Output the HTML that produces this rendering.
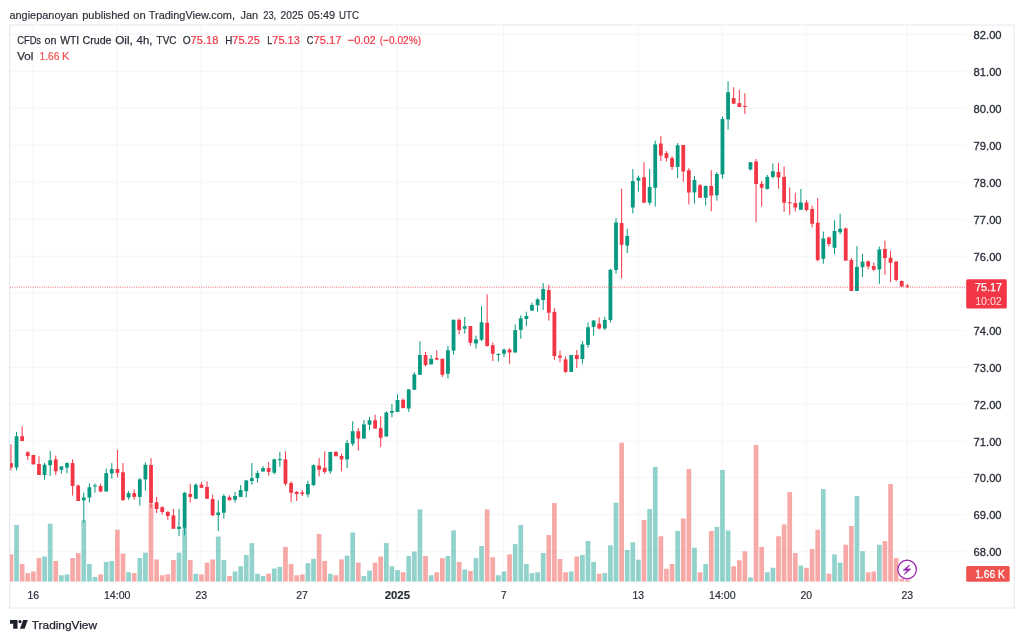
<!DOCTYPE html>
<html lang="en"><head><meta charset="utf-8"><title>CFDs on WTI Crude Oil</title>
<style>html,body{margin:0;padding:0;background:#fff;}body{width:1024px;height:641px;overflow:hidden;}svg{display:block;}text{font-family:"Liberation Sans", sans-serif;}</style></head><body>
<svg width="1024" height="641" viewBox="0 0 1024 641">
<rect width="1024" height="641" fill="#fff"/>
<g stroke="#f4f5f6" stroke-width="1">
<line x1="10" y1="551.75" x2="965.5" y2="551.75"/>
<line x1="10" y1="514.70" x2="965.5" y2="514.70"/>
<line x1="10" y1="477.40" x2="965.5" y2="477.40"/>
<line x1="10" y1="441.25" x2="965.5" y2="441.25"/>
<line x1="10" y1="404.40" x2="965.5" y2="404.40"/>
<line x1="10" y1="367.40" x2="965.5" y2="367.40"/>
<line x1="10" y1="330.50" x2="965.5" y2="330.50"/>
<line x1="10" y1="293.10" x2="965.5" y2="293.10"/>
<line x1="10" y1="256.25" x2="965.5" y2="256.25"/>
<line x1="10" y1="219.20" x2="965.5" y2="219.20"/>
<line x1="10" y1="182.10" x2="965.5" y2="182.10"/>
<line x1="10" y1="145.00" x2="965.5" y2="145.00"/>
<line x1="10" y1="108.30" x2="965.5" y2="108.30"/>
<line x1="10" y1="71.25" x2="965.5" y2="71.25"/>
<line x1="10" y1="34.25" x2="965.5" y2="34.25"/>
<line x1="33.01" y1="25.5" x2="33.01" y2="582"/>
<line x1="117.05" y1="25.5" x2="117.05" y2="582"/>
<line x1="201.09" y1="25.5" x2="201.09" y2="582"/>
<line x1="301.93" y1="25.5" x2="301.93" y2="582"/>
<line x1="397.17" y1="25.5" x2="397.17" y2="582"/>
<line x1="503.62" y1="25.5" x2="503.62" y2="582"/>
<line x1="638.08" y1="25.5" x2="638.08" y2="582"/>
<line x1="722.12" y1="25.5" x2="722.12" y2="582"/>
<line x1="806.15" y1="25.5" x2="806.15" y2="582"/>
<line x1="907.00" y1="25.5" x2="907.00" y2="582"/>
</g>
<rect x="9.6" y="25.0" width="1004.6" height="583.0" fill="none" stroke="#e7e9f0" stroke-width="1.1"/>
<g>
<rect x="10.00" y="554.40" width="3.30" height="27.20" fill="rgba(239,83,80,0.5)"/>
<rect x="14.20" y="525.00" width="4.70" height="56.60" fill="rgba(38,166,154,0.5)"/>
<rect x="19.80" y="564.00" width="4.70" height="17.60" fill="rgba(239,83,80,0.5)"/>
<rect x="25.41" y="573.10" width="4.70" height="8.50" fill="rgba(239,83,80,0.5)"/>
<rect x="31.01" y="571.50" width="4.70" height="10.10" fill="rgba(239,83,80,0.5)"/>
<rect x="36.61" y="558.10" width="4.70" height="23.50" fill="rgba(239,83,80,0.5)"/>
<rect x="42.21" y="556.50" width="4.70" height="25.10" fill="rgba(38,166,154,0.5)"/>
<rect x="47.82" y="523.75" width="4.70" height="57.85" fill="rgba(38,166,154,0.5)"/>
<rect x="53.42" y="561.00" width="4.70" height="20.60" fill="rgba(239,83,80,0.5)"/>
<rect x="59.02" y="575.25" width="4.70" height="6.35" fill="rgba(38,166,154,0.5)"/>
<rect x="64.62" y="574.40" width="4.70" height="7.20" fill="rgba(38,166,154,0.5)"/>
<rect x="70.23" y="558.10" width="4.70" height="23.50" fill="rgba(239,83,80,0.5)"/>
<rect x="75.83" y="553.10" width="4.70" height="28.50" fill="rgba(239,83,80,0.5)"/>
<rect x="81.43" y="520.25" width="4.70" height="61.35" fill="rgba(38,166,154,0.5)"/>
<rect x="87.04" y="564.00" width="4.70" height="17.60" fill="rgba(38,166,154,0.5)"/>
<rect x="92.64" y="576.90" width="4.70" height="4.70" fill="rgba(38,166,154,0.5)"/>
<rect x="98.24" y="574.40" width="4.70" height="7.20" fill="rgba(239,83,80,0.5)"/>
<rect x="103.84" y="561.90" width="4.70" height="19.70" fill="rgba(38,166,154,0.5)"/>
<rect x="109.45" y="561.00" width="4.70" height="20.60" fill="rgba(38,166,154,0.5)"/>
<rect x="115.05" y="529.75" width="4.70" height="51.85" fill="rgba(239,83,80,0.5)"/>
<rect x="120.65" y="553.50" width="4.70" height="28.10" fill="rgba(239,83,80,0.5)"/>
<rect x="126.25" y="572.25" width="4.70" height="9.35" fill="rgba(38,166,154,0.5)"/>
<rect x="131.85" y="573.10" width="4.70" height="8.50" fill="rgba(239,83,80,0.5)"/>
<rect x="137.46" y="558.10" width="4.70" height="23.50" fill="rgba(38,166,154,0.5)"/>
<rect x="143.06" y="552.75" width="4.70" height="28.85" fill="rgba(38,166,154,0.5)"/>
<rect x="148.66" y="504.00" width="4.70" height="77.60" fill="rgba(239,83,80,0.5)"/>
<rect x="154.26" y="559.40" width="4.70" height="22.20" fill="rgba(239,83,80,0.5)"/>
<rect x="159.87" y="575.25" width="4.70" height="6.35" fill="rgba(239,83,80,0.5)"/>
<rect x="165.47" y="574.40" width="4.70" height="7.20" fill="rgba(239,83,80,0.5)"/>
<rect x="171.07" y="560.00" width="4.70" height="21.60" fill="rgba(239,83,80,0.5)"/>
<rect x="176.67" y="552.75" width="4.70" height="28.85" fill="rgba(38,166,154,0.5)"/>
<rect x="182.28" y="527.00" width="4.70" height="54.60" fill="rgba(38,166,154,0.5)"/>
<rect x="187.88" y="560.00" width="4.70" height="21.60" fill="rgba(239,83,80,0.5)"/>
<rect x="193.48" y="573.75" width="4.70" height="7.85" fill="rgba(38,166,154,0.5)"/>
<rect x="199.09" y="574.40" width="4.70" height="7.20" fill="rgba(239,83,80,0.5)"/>
<rect x="204.69" y="562.50" width="4.70" height="19.10" fill="rgba(239,83,80,0.5)"/>
<rect x="210.29" y="559.40" width="4.70" height="22.20" fill="rgba(239,83,80,0.5)"/>
<rect x="215.89" y="536.50" width="4.70" height="45.10" fill="rgba(38,166,154,0.5)"/>
<rect x="221.50" y="560.00" width="4.70" height="21.60" fill="rgba(38,166,154,0.5)"/>
<rect x="227.10" y="576.00" width="4.70" height="5.60" fill="rgba(239,83,80,0.5)"/>
<rect x="232.70" y="571.50" width="4.70" height="10.10" fill="rgba(38,166,154,0.5)"/>
<rect x="238.30" y="566.25" width="4.70" height="15.35" fill="rgba(38,166,154,0.5)"/>
<rect x="243.91" y="555.00" width="4.70" height="26.60" fill="rgba(38,166,154,0.5)"/>
<rect x="249.51" y="543.10" width="4.70" height="38.50" fill="rgba(38,166,154,0.5)"/>
<rect x="255.11" y="573.75" width="4.70" height="7.85" fill="rgba(38,166,154,0.5)"/>
<rect x="260.71" y="576.00" width="4.70" height="5.60" fill="rgba(38,166,154,0.5)"/>
<rect x="266.31" y="573.75" width="4.70" height="7.85" fill="rgba(239,83,80,0.5)"/>
<rect x="271.92" y="568.50" width="4.70" height="13.10" fill="rgba(38,166,154,0.5)"/>
<rect x="277.52" y="566.90" width="4.70" height="14.70" fill="rgba(38,166,154,0.5)"/>
<rect x="283.12" y="546.90" width="4.70" height="34.70" fill="rgba(239,83,80,0.5)"/>
<rect x="288.72" y="564.00" width="4.70" height="17.60" fill="rgba(239,83,80,0.5)"/>
<rect x="294.33" y="575.25" width="4.70" height="6.35" fill="rgba(239,83,80,0.5)"/>
<rect x="299.93" y="574.40" width="4.70" height="7.20" fill="rgba(239,83,80,0.5)"/>
<rect x="305.53" y="563.10" width="4.70" height="18.50" fill="rgba(38,166,154,0.5)"/>
<rect x="311.13" y="558.75" width="4.70" height="22.85" fill="rgba(38,166,154,0.5)"/>
<rect x="316.74" y="534.00" width="4.70" height="47.60" fill="rgba(239,83,80,0.5)"/>
<rect x="322.34" y="561.00" width="4.70" height="20.60" fill="rgba(239,83,80,0.5)"/>
<rect x="327.94" y="573.75" width="4.70" height="7.85" fill="rgba(38,166,154,0.5)"/>
<rect x="333.54" y="575.25" width="4.70" height="6.35" fill="rgba(239,83,80,0.5)"/>
<rect x="339.15" y="559.40" width="4.70" height="22.20" fill="rgba(239,83,80,0.5)"/>
<rect x="344.75" y="555.60" width="4.70" height="26.00" fill="rgba(38,166,154,0.5)"/>
<rect x="350.35" y="532.50" width="4.70" height="49.10" fill="rgba(38,166,154,0.5)"/>
<rect x="355.95" y="562.50" width="4.70" height="19.10" fill="rgba(239,83,80,0.5)"/>
<rect x="361.56" y="576.00" width="4.70" height="5.60" fill="rgba(38,166,154,0.5)"/>
<rect x="367.16" y="570.60" width="4.70" height="11.00" fill="rgba(38,166,154,0.5)"/>
<rect x="372.76" y="562.50" width="4.70" height="19.10" fill="rgba(239,83,80,0.5)"/>
<rect x="378.36" y="556.50" width="4.70" height="25.10" fill="rgba(239,83,80,0.5)"/>
<rect x="383.97" y="543.10" width="4.70" height="38.50" fill="rgba(38,166,154,0.5)"/>
<rect x="389.57" y="566.25" width="4.70" height="15.35" fill="rgba(38,166,154,0.5)"/>
<rect x="395.17" y="570.00" width="4.70" height="11.60" fill="rgba(38,166,154,0.5)"/>
<rect x="400.77" y="572.25" width="4.70" height="9.35" fill="rgba(239,83,80,0.5)"/>
<rect x="406.38" y="556.00" width="4.70" height="25.60" fill="rgba(38,166,154,0.5)"/>
<rect x="411.98" y="551.50" width="4.70" height="30.10" fill="rgba(38,166,154,0.5)"/>
<rect x="417.58" y="509.40" width="4.70" height="72.20" fill="rgba(38,166,154,0.5)"/>
<rect x="423.18" y="556.00" width="4.70" height="25.60" fill="rgba(239,83,80,0.5)"/>
<rect x="428.79" y="575.25" width="4.70" height="6.35" fill="rgba(38,166,154,0.5)"/>
<rect x="434.39" y="572.25" width="4.70" height="9.35" fill="rgba(239,83,80,0.5)"/>
<rect x="439.99" y="558.10" width="4.70" height="23.50" fill="rgba(239,83,80,0.5)"/>
<rect x="445.59" y="556.00" width="4.70" height="25.60" fill="rgba(38,166,154,0.5)"/>
<rect x="451.20" y="530.40" width="4.70" height="51.20" fill="rgba(38,166,154,0.5)"/>
<rect x="456.80" y="561.90" width="4.70" height="19.70" fill="rgba(239,83,80,0.5)"/>
<rect x="462.40" y="569.40" width="4.70" height="12.20" fill="rgba(38,166,154,0.5)"/>
<rect x="468.00" y="571.00" width="4.70" height="10.60" fill="rgba(239,83,80,0.5)"/>
<rect x="473.61" y="558.10" width="4.70" height="23.50" fill="rgba(38,166,154,0.5)"/>
<rect x="479.21" y="546.00" width="4.70" height="35.60" fill="rgba(38,166,154,0.5)"/>
<rect x="484.81" y="509.40" width="4.70" height="72.20" fill="rgba(239,83,80,0.5)"/>
<rect x="490.41" y="557.25" width="4.70" height="24.35" fill="rgba(239,83,80,0.5)"/>
<rect x="496.02" y="575.25" width="4.70" height="6.35" fill="rgba(38,166,154,0.5)"/>
<rect x="501.62" y="571.50" width="4.70" height="10.10" fill="rgba(38,166,154,0.5)"/>
<rect x="507.22" y="554.40" width="4.70" height="27.20" fill="rgba(239,83,80,0.5)"/>
<rect x="512.83" y="544.00" width="4.70" height="37.60" fill="rgba(38,166,154,0.5)"/>
<rect x="518.43" y="525.00" width="4.70" height="56.60" fill="rgba(38,166,154,0.5)"/>
<rect x="524.03" y="564.00" width="4.70" height="17.60" fill="rgba(38,166,154,0.5)"/>
<rect x="529.63" y="573.10" width="4.70" height="8.50" fill="rgba(38,166,154,0.5)"/>
<rect x="535.24" y="572.25" width="4.70" height="9.35" fill="rgba(38,166,154,0.5)"/>
<rect x="540.84" y="553.10" width="4.70" height="28.50" fill="rgba(38,166,154,0.5)"/>
<rect x="546.44" y="535.00" width="4.70" height="46.60" fill="rgba(239,83,80,0.5)"/>
<rect x="552.04" y="503.00" width="4.70" height="78.60" fill="rgba(239,83,80,0.5)"/>
<rect x="557.64" y="559.00" width="4.70" height="22.60" fill="rgba(239,83,80,0.5)"/>
<rect x="563.25" y="572.25" width="4.70" height="9.35" fill="rgba(239,83,80,0.5)"/>
<rect x="568.85" y="571.50" width="4.70" height="10.10" fill="rgba(38,166,154,0.5)"/>
<rect x="574.45" y="556.50" width="4.70" height="25.10" fill="rgba(239,83,80,0.5)"/>
<rect x="580.06" y="555.00" width="4.70" height="26.60" fill="rgba(38,166,154,0.5)"/>
<rect x="585.66" y="541.00" width="4.70" height="40.60" fill="rgba(38,166,154,0.5)"/>
<rect x="591.26" y="561.90" width="4.70" height="19.70" fill="rgba(38,166,154,0.5)"/>
<rect x="596.86" y="573.75" width="4.70" height="7.85" fill="rgba(239,83,80,0.5)"/>
<rect x="602.47" y="573.10" width="4.70" height="8.50" fill="rgba(38,166,154,0.5)"/>
<rect x="608.07" y="545.25" width="4.70" height="36.35" fill="rgba(38,166,154,0.5)"/>
<rect x="613.67" y="502.75" width="4.70" height="78.85" fill="rgba(38,166,154,0.5)"/>
<rect x="619.27" y="442.75" width="4.70" height="138.85" fill="rgba(239,83,80,0.5)"/>
<rect x="624.88" y="550.00" width="4.70" height="31.60" fill="rgba(38,166,154,0.5)"/>
<rect x="630.48" y="542.25" width="4.70" height="39.35" fill="rgba(38,166,154,0.5)"/>
<rect x="636.08" y="559.75" width="4.70" height="21.85" fill="rgba(38,166,154,0.5)"/>
<rect x="641.68" y="520.00" width="4.70" height="61.60" fill="rgba(239,83,80,0.5)"/>
<rect x="647.29" y="509.00" width="4.70" height="72.60" fill="rgba(38,166,154,0.5)"/>
<rect x="652.89" y="466.90" width="4.70" height="114.70" fill="rgba(38,166,154,0.5)"/>
<rect x="658.49" y="536.25" width="4.70" height="45.35" fill="rgba(239,83,80,0.5)"/>
<rect x="664.09" y="568.75" width="4.70" height="12.85" fill="rgba(239,83,80,0.5)"/>
<rect x="669.70" y="564.00" width="4.70" height="17.60" fill="rgba(239,83,80,0.5)"/>
<rect x="675.30" y="531.00" width="4.70" height="50.60" fill="rgba(38,166,154,0.5)"/>
<rect x="680.90" y="518.50" width="4.70" height="63.10" fill="rgba(239,83,80,0.5)"/>
<rect x="686.50" y="469.00" width="4.70" height="112.60" fill="rgba(239,83,80,0.5)"/>
<rect x="692.11" y="547.75" width="4.70" height="33.85" fill="rgba(38,166,154,0.5)"/>
<rect x="697.71" y="572.25" width="4.70" height="9.35" fill="rgba(239,83,80,0.5)"/>
<rect x="703.31" y="564.00" width="4.70" height="17.60" fill="rgba(38,166,154,0.5)"/>
<rect x="708.91" y="531.00" width="4.70" height="50.60" fill="rgba(239,83,80,0.5)"/>
<rect x="714.51" y="526.90" width="4.70" height="54.70" fill="rgba(38,166,154,0.5)"/>
<rect x="720.12" y="470.00" width="4.70" height="111.60" fill="rgba(38,166,154,0.5)"/>
<rect x="725.72" y="530.40" width="4.70" height="51.20" fill="rgba(38,166,154,0.5)"/>
<rect x="731.32" y="566.25" width="4.70" height="15.35" fill="rgba(239,83,80,0.5)"/>
<rect x="736.93" y="560.25" width="4.70" height="21.35" fill="rgba(239,83,80,0.5)"/>
<rect x="742.53" y="551.25" width="4.70" height="30.35" fill="rgba(239,83,80,0.5)"/>
<rect x="748.13" y="577.50" width="4.70" height="4.10" fill="rgba(38,166,154,0.5)"/>
<rect x="753.73" y="445.00" width="4.70" height="136.60" fill="rgba(239,83,80,0.5)"/>
<rect x="759.34" y="546.90" width="4.70" height="34.70" fill="rgba(239,83,80,0.5)"/>
<rect x="764.94" y="572.25" width="4.70" height="9.35" fill="rgba(38,166,154,0.5)"/>
<rect x="770.54" y="567.75" width="4.70" height="13.85" fill="rgba(38,166,154,0.5)"/>
<rect x="776.14" y="536.25" width="4.70" height="45.35" fill="rgba(239,83,80,0.5)"/>
<rect x="781.75" y="524.40" width="4.70" height="57.20" fill="rgba(239,83,80,0.5)"/>
<rect x="787.35" y="492.10" width="4.70" height="89.50" fill="rgba(239,83,80,0.5)"/>
<rect x="792.95" y="553.10" width="4.70" height="28.50" fill="rgba(239,83,80,0.5)"/>
<rect x="798.55" y="565.60" width="4.70" height="16.00" fill="rgba(38,166,154,0.5)"/>
<rect x="804.15" y="567.90" width="4.70" height="13.70" fill="rgba(239,83,80,0.5)"/>
<rect x="809.76" y="549.00" width="4.70" height="32.60" fill="rgba(239,83,80,0.5)"/>
<rect x="815.36" y="529.75" width="4.70" height="51.85" fill="rgba(239,83,80,0.5)"/>
<rect x="820.96" y="489.10" width="4.70" height="92.50" fill="rgba(38,166,154,0.5)"/>
<rect x="826.57" y="573.75" width="4.70" height="7.85" fill="rgba(239,83,80,0.5)"/>
<rect x="832.17" y="554.40" width="4.70" height="27.20" fill="rgba(38,166,154,0.5)"/>
<rect x="837.77" y="562.50" width="4.70" height="19.10" fill="rgba(38,166,154,0.5)"/>
<rect x="843.37" y="544.75" width="4.70" height="36.85" fill="rgba(239,83,80,0.5)"/>
<rect x="848.98" y="526.00" width="4.70" height="55.60" fill="rgba(239,83,80,0.5)"/>
<rect x="854.58" y="496.00" width="4.70" height="85.60" fill="rgba(38,166,154,0.5)"/>
<rect x="860.18" y="551.25" width="4.70" height="30.35" fill="rgba(38,166,154,0.5)"/>
<rect x="865.78" y="572.25" width="4.70" height="9.35" fill="rgba(239,83,80,0.5)"/>
<rect x="871.38" y="571.50" width="4.70" height="10.10" fill="rgba(239,83,80,0.5)"/>
<rect x="876.99" y="544.75" width="4.70" height="36.85" fill="rgba(38,166,154,0.5)"/>
<rect x="882.59" y="541.00" width="4.70" height="40.60" fill="rgba(239,83,80,0.5)"/>
<rect x="888.19" y="484.00" width="4.70" height="97.60" fill="rgba(239,83,80,0.5)"/>
<rect x="893.80" y="558.10" width="4.70" height="23.50" fill="rgba(239,83,80,0.5)"/>
<rect x="899.40" y="578.75" width="4.70" height="2.85" fill="rgba(239,83,80,0.5)"/>
<rect x="905.00" y="580.00" width="4.70" height="1.60" fill="rgba(239,83,80,0.5)"/>
</g>
<g>
<rect x="10.45" y="444.40" width="1" height="26.20" fill="#F23645"/>
<rect x="10.00" y="463.10" width="2.85" height="4.40" fill="#F23645"/>
<rect x="16.05" y="431.90" width="1" height="38.70" fill="#089981"/>
<rect x="14.65" y="436.25" width="3.80" height="31.25" fill="#089981"/>
<rect x="21.66" y="426.25" width="1" height="14.75" fill="#F23645"/>
<rect x="20.26" y="436.25" width="3.80" height="4.75" fill="#F23645"/>
<rect x="27.26" y="451.25" width="1" height="8.75" fill="#F23645"/>
<rect x="25.86" y="452.25" width="3.80" height="3.75" fill="#F23645"/>
<rect x="32.86" y="455.00" width="1" height="9.40" fill="#F23645"/>
<rect x="31.46" y="455.00" width="3.80" height="9.40" fill="#F23645"/>
<rect x="38.46" y="456.25" width="1" height="18.75" fill="#F23645"/>
<rect x="37.06" y="464.00" width="3.80" height="11.00" fill="#F23645"/>
<rect x="44.06" y="463.00" width="1" height="16.75" fill="#089981"/>
<rect x="42.66" y="464.75" width="3.80" height="10.25" fill="#089981"/>
<rect x="49.67" y="451.00" width="1" height="24.90" fill="#089981"/>
<rect x="48.27" y="460.25" width="3.80" height="5.00" fill="#089981"/>
<rect x="55.27" y="455.60" width="1" height="19.40" fill="#F23645"/>
<rect x="53.87" y="459.40" width="3.80" height="11.85" fill="#F23645"/>
<rect x="60.87" y="466.00" width="1" height="7.75" fill="#089981"/>
<rect x="59.47" y="466.50" width="3.80" height="3.25" fill="#089981"/>
<rect x="66.47" y="462.25" width="1" height="11.15" fill="#089981"/>
<rect x="65.07" y="463.10" width="3.80" height="4.50" fill="#089981"/>
<rect x="72.08" y="459.40" width="1" height="36.20" fill="#F23645"/>
<rect x="70.68" y="463.10" width="3.80" height="22.90" fill="#F23645"/>
<rect x="77.68" y="484.50" width="1" height="16.50" fill="#F23645"/>
<rect x="76.28" y="485.60" width="3.80" height="15.40" fill="#F23645"/>
<rect x="83.28" y="492.50" width="1" height="30.00" fill="#089981"/>
<rect x="81.88" y="497.50" width="3.80" height="2.75" fill="#089981"/>
<rect x="88.89" y="483.50" width="1" height="19.00" fill="#089981"/>
<rect x="87.48" y="487.25" width="3.80" height="10.25" fill="#089981"/>
<rect x="94.49" y="483.50" width="1" height="9.25" fill="#089981"/>
<rect x="93.09" y="485.40" width="3.80" height="1.10" fill="#089981"/>
<rect x="100.09" y="483.50" width="1" height="8.75" fill="#F23645"/>
<rect x="98.69" y="486.00" width="3.80" height="5.50" fill="#F23645"/>
<rect x="105.69" y="468.50" width="1" height="23.00" fill="#089981"/>
<rect x="104.29" y="473.10" width="3.80" height="18.40" fill="#089981"/>
<rect x="111.30" y="463.10" width="1" height="15.65" fill="#089981"/>
<rect x="109.89" y="469.10" width="3.80" height="4.40" fill="#089981"/>
<rect x="116.90" y="449.75" width="1" height="27.50" fill="#F23645"/>
<rect x="115.50" y="469.10" width="3.80" height="3.80" fill="#F23645"/>
<rect x="122.50" y="463.10" width="1" height="37.90" fill="#F23645"/>
<rect x="121.10" y="472.25" width="3.80" height="27.75" fill="#F23645"/>
<rect x="128.10" y="491.00" width="1" height="8.75" fill="#089981"/>
<rect x="126.70" y="493.10" width="3.80" height="4.40" fill="#089981"/>
<rect x="133.70" y="489.40" width="1" height="10.35" fill="#F23645"/>
<rect x="132.30" y="493.10" width="3.80" height="3.80" fill="#F23645"/>
<rect x="139.31" y="478.00" width="1" height="27.60" fill="#089981"/>
<rect x="137.91" y="479.40" width="3.80" height="17.50" fill="#089981"/>
<rect x="144.91" y="462.50" width="1" height="28.10" fill="#089981"/>
<rect x="143.51" y="464.75" width="3.80" height="14.65" fill="#089981"/>
<rect x="150.51" y="458.10" width="1" height="49.90" fill="#F23645"/>
<rect x="149.11" y="465.00" width="3.80" height="38.10" fill="#F23645"/>
<rect x="156.11" y="496.90" width="1" height="16.20" fill="#F23645"/>
<rect x="154.71" y="502.25" width="3.80" height="6.75" fill="#F23645"/>
<rect x="161.72" y="506.25" width="1" height="8.35" fill="#F23645"/>
<rect x="160.32" y="507.25" width="3.80" height="4.75" fill="#F23645"/>
<rect x="167.32" y="511.25" width="1" height="8.50" fill="#F23645"/>
<rect x="165.92" y="511.90" width="3.80" height="4.10" fill="#F23645"/>
<rect x="172.92" y="509.00" width="1" height="19.75" fill="#F23645"/>
<rect x="171.52" y="515.40" width="3.80" height="13.35" fill="#F23645"/>
<rect x="178.52" y="508.90" width="1" height="27.20" fill="#089981"/>
<rect x="177.12" y="526.70" width="3.80" height="2.20" fill="#089981"/>
<rect x="184.13" y="491.90" width="1" height="43.40" fill="#089981"/>
<rect x="182.73" y="492.75" width="3.80" height="34.75" fill="#089981"/>
<rect x="189.73" y="483.90" width="1" height="18.60" fill="#F23645"/>
<rect x="188.33" y="493.90" width="3.80" height="3.00" fill="#F23645"/>
<rect x="195.33" y="483.50" width="1" height="15.25" fill="#089981"/>
<rect x="193.93" y="484.75" width="3.80" height="14.00" fill="#089981"/>
<rect x="200.94" y="481.90" width="1" height="6.20" fill="#F23645"/>
<rect x="199.53" y="484.75" width="3.80" height="3.00" fill="#F23645"/>
<rect x="206.54" y="481.25" width="1" height="17.50" fill="#F23645"/>
<rect x="205.14" y="486.90" width="3.80" height="11.85" fill="#F23645"/>
<rect x="212.14" y="494.75" width="1" height="21.25" fill="#F23645"/>
<rect x="210.74" y="499.00" width="3.80" height="16.25" fill="#F23645"/>
<rect x="217.74" y="500.25" width="1" height="30.75" fill="#089981"/>
<rect x="216.34" y="512.50" width="3.80" height="2.60" fill="#089981"/>
<rect x="223.34" y="494.00" width="1" height="24.50" fill="#089981"/>
<rect x="221.94" y="496.00" width="3.80" height="16.75" fill="#089981"/>
<rect x="228.95" y="495.25" width="1" height="5.00" fill="#F23645"/>
<rect x="227.55" y="497.25" width="3.80" height="3.00" fill="#F23645"/>
<rect x="234.55" y="491.90" width="1" height="10.60" fill="#089981"/>
<rect x="233.15" y="496.00" width="3.80" height="3.75" fill="#089981"/>
<rect x="240.15" y="485.00" width="1" height="11.90" fill="#089981"/>
<rect x="238.75" y="490.00" width="3.80" height="6.90" fill="#089981"/>
<rect x="245.75" y="480.40" width="1" height="17.10" fill="#089981"/>
<rect x="244.35" y="480.40" width="3.80" height="10.85" fill="#089981"/>
<rect x="251.36" y="463.10" width="1" height="21.65" fill="#089981"/>
<rect x="249.96" y="478.10" width="3.80" height="2.90" fill="#089981"/>
<rect x="256.96" y="470.60" width="1" height="11.90" fill="#089981"/>
<rect x="255.56" y="473.00" width="3.80" height="5.10" fill="#089981"/>
<rect x="262.56" y="466.00" width="1" height="5.50" fill="#089981"/>
<rect x="261.16" y="468.10" width="3.80" height="3.40" fill="#089981"/>
<rect x="268.16" y="461.90" width="1" height="13.70" fill="#F23645"/>
<rect x="266.76" y="468.10" width="3.80" height="3.80" fill="#F23645"/>
<rect x="273.77" y="458.50" width="1" height="15.90" fill="#089981"/>
<rect x="272.37" y="459.40" width="3.80" height="13.35" fill="#089981"/>
<rect x="279.37" y="451.90" width="1" height="15.00" fill="#089981"/>
<rect x="277.97" y="459.10" width="3.80" height="1.15" fill="#089981"/>
<rect x="284.97" y="451.25" width="1" height="34.35" fill="#F23645"/>
<rect x="283.57" y="459.40" width="3.80" height="24.35" fill="#F23645"/>
<rect x="290.57" y="481.25" width="1" height="20.75" fill="#F23645"/>
<rect x="289.18" y="483.10" width="3.80" height="9.65" fill="#F23645"/>
<rect x="296.18" y="491.00" width="1" height="10.00" fill="#F23645"/>
<rect x="294.78" y="491.90" width="3.80" height="2.10" fill="#F23645"/>
<rect x="301.78" y="490.00" width="1" height="6.00" fill="#F23645"/>
<rect x="300.38" y="492.50" width="3.80" height="1.50" fill="#F23645"/>
<rect x="307.38" y="480.60" width="1" height="16.90" fill="#089981"/>
<rect x="305.98" y="484.00" width="3.80" height="10.40" fill="#089981"/>
<rect x="312.99" y="464.40" width="1" height="21.85" fill="#089981"/>
<rect x="311.59" y="465.25" width="3.80" height="19.75" fill="#089981"/>
<rect x="318.59" y="458.10" width="1" height="18.40" fill="#F23645"/>
<rect x="317.19" y="465.60" width="3.80" height="4.15" fill="#F23645"/>
<rect x="324.19" y="451.25" width="1" height="22.50" fill="#F23645"/>
<rect x="322.79" y="467.75" width="3.80" height="4.15" fill="#F23645"/>
<rect x="329.79" y="451.90" width="1" height="21.85" fill="#089981"/>
<rect x="328.39" y="451.90" width="3.80" height="19.35" fill="#089981"/>
<rect x="335.39" y="451.25" width="1" height="5.00" fill="#F23645"/>
<rect x="334.00" y="451.90" width="3.80" height="4.35" fill="#F23645"/>
<rect x="341.00" y="453.50" width="1" height="17.75" fill="#F23645"/>
<rect x="339.60" y="456.00" width="3.80" height="3.40" fill="#F23645"/>
<rect x="346.60" y="440.00" width="1" height="28.10" fill="#089981"/>
<rect x="345.20" y="443.10" width="3.80" height="16.30" fill="#089981"/>
<rect x="352.20" y="421.25" width="1" height="24.75" fill="#089981"/>
<rect x="350.80" y="431.25" width="3.80" height="12.50" fill="#089981"/>
<rect x="357.81" y="428.10" width="1" height="22.50" fill="#F23645"/>
<rect x="356.41" y="431.25" width="3.80" height="7.25" fill="#F23645"/>
<rect x="363.41" y="420.00" width="1" height="18.60" fill="#089981"/>
<rect x="362.01" y="424.40" width="3.80" height="14.20" fill="#089981"/>
<rect x="369.01" y="416.90" width="1" height="13.20" fill="#089981"/>
<rect x="367.61" y="420.25" width="3.80" height="4.50" fill="#089981"/>
<rect x="374.61" y="414.75" width="1" height="13.85" fill="#F23645"/>
<rect x="373.21" y="420.25" width="3.80" height="8.35" fill="#F23645"/>
<rect x="380.21" y="416.25" width="1" height="30.65" fill="#F23645"/>
<rect x="378.81" y="428.10" width="3.80" height="9.65" fill="#F23645"/>
<rect x="385.82" y="411.25" width="1" height="25.25" fill="#089981"/>
<rect x="384.42" y="412.50" width="3.80" height="24.00" fill="#089981"/>
<rect x="391.42" y="404.00" width="1" height="13.25" fill="#089981"/>
<rect x="390.02" y="411.00" width="3.80" height="1.75" fill="#089981"/>
<rect x="397.02" y="394.40" width="1" height="17.50" fill="#089981"/>
<rect x="395.62" y="400.00" width="3.80" height="11.90" fill="#089981"/>
<rect x="402.62" y="398.50" width="1" height="9.60" fill="#F23645"/>
<rect x="401.23" y="399.75" width="3.80" height="8.35" fill="#F23645"/>
<rect x="408.23" y="389.40" width="1" height="22.50" fill="#089981"/>
<rect x="406.83" y="389.40" width="3.80" height="19.10" fill="#089981"/>
<rect x="413.83" y="372.25" width="1" height="17.50" fill="#089981"/>
<rect x="412.43" y="374.40" width="3.80" height="15.35" fill="#089981"/>
<rect x="419.43" y="341.25" width="1" height="33.50" fill="#089981"/>
<rect x="418.03" y="355.00" width="3.80" height="19.75" fill="#089981"/>
<rect x="425.03" y="351.90" width="1" height="14.60" fill="#F23645"/>
<rect x="423.63" y="355.00" width="3.80" height="10.00" fill="#F23645"/>
<rect x="430.64" y="355.00" width="1" height="9.40" fill="#089981"/>
<rect x="429.24" y="358.75" width="3.80" height="5.65" fill="#089981"/>
<rect x="436.24" y="350.25" width="1" height="9.75" fill="#F23645"/>
<rect x="434.84" y="358.10" width="3.80" height="1.50" fill="#F23645"/>
<rect x="441.84" y="358.75" width="1" height="18.15" fill="#F23645"/>
<rect x="440.44" y="358.75" width="3.80" height="16.00" fill="#F23645"/>
<rect x="447.44" y="346.00" width="1" height="32.50" fill="#089981"/>
<rect x="446.05" y="350.25" width="3.80" height="23.50" fill="#089981"/>
<rect x="453.05" y="319.75" width="1" height="35.00" fill="#089981"/>
<rect x="451.65" y="319.75" width="3.80" height="30.85" fill="#089981"/>
<rect x="458.65" y="318.50" width="1" height="15.90" fill="#F23645"/>
<rect x="457.25" y="319.75" width="3.80" height="10.25" fill="#F23645"/>
<rect x="464.25" y="316.90" width="1" height="16.60" fill="#089981"/>
<rect x="462.85" y="326.25" width="3.80" height="2.50" fill="#089981"/>
<rect x="469.86" y="326.00" width="1" height="19.60" fill="#F23645"/>
<rect x="468.46" y="326.00" width="3.80" height="16.75" fill="#F23645"/>
<rect x="475.46" y="335.60" width="1" height="13.15" fill="#089981"/>
<rect x="474.06" y="339.40" width="3.80" height="4.10" fill="#089981"/>
<rect x="481.06" y="306.25" width="1" height="35.00" fill="#089981"/>
<rect x="479.66" y="322.25" width="3.80" height="17.50" fill="#089981"/>
<rect x="486.66" y="294.40" width="1" height="52.10" fill="#F23645"/>
<rect x="485.26" y="322.75" width="3.80" height="23.25" fill="#F23645"/>
<rect x="492.26" y="342.50" width="1" height="18.50" fill="#F23645"/>
<rect x="490.87" y="345.25" width="3.80" height="8.50" fill="#F23645"/>
<rect x="497.87" y="353.10" width="1" height="8.40" fill="#089981"/>
<rect x="496.47" y="354.00" width="3.80" height="1.00" fill="#089981"/>
<rect x="503.47" y="348.75" width="1" height="8.15" fill="#089981"/>
<rect x="502.07" y="349.60" width="3.80" height="4.15" fill="#089981"/>
<rect x="509.07" y="348.10" width="1" height="15.65" fill="#F23645"/>
<rect x="507.67" y="349.60" width="3.80" height="2.80" fill="#F23645"/>
<rect x="514.68" y="324.40" width="1" height="28.10" fill="#089981"/>
<rect x="513.28" y="330.10" width="3.80" height="22.40" fill="#089981"/>
<rect x="520.28" y="315.40" width="1" height="23.35" fill="#089981"/>
<rect x="518.88" y="318.30" width="3.80" height="11.60" fill="#089981"/>
<rect x="525.88" y="311.70" width="1" height="14.55" fill="#089981"/>
<rect x="524.48" y="316.00" width="3.80" height="2.90" fill="#089981"/>
<rect x="531.48" y="302.75" width="1" height="7.85" fill="#089981"/>
<rect x="530.08" y="305.00" width="3.80" height="5.60" fill="#089981"/>
<rect x="537.09" y="298.10" width="1" height="13.80" fill="#089981"/>
<rect x="535.69" y="299.40" width="3.80" height="5.85" fill="#089981"/>
<rect x="542.69" y="283.10" width="1" height="26.65" fill="#089981"/>
<rect x="541.29" y="289.00" width="3.80" height="11.00" fill="#089981"/>
<rect x="548.29" y="284.75" width="1" height="35.85" fill="#F23645"/>
<rect x="546.89" y="290.00" width="3.80" height="22.75" fill="#F23645"/>
<rect x="553.89" y="308.10" width="1" height="51.90" fill="#F23645"/>
<rect x="552.49" y="311.90" width="3.80" height="44.20" fill="#F23645"/>
<rect x="559.50" y="350.60" width="1" height="11.65" fill="#F23645"/>
<rect x="558.10" y="355.60" width="3.80" height="2.00" fill="#F23645"/>
<rect x="565.10" y="356.50" width="1" height="16.60" fill="#F23645"/>
<rect x="563.70" y="359.40" width="3.80" height="12.50" fill="#F23645"/>
<rect x="570.70" y="355.00" width="1" height="16.90" fill="#089981"/>
<rect x="569.30" y="355.00" width="3.80" height="16.90" fill="#089981"/>
<rect x="576.30" y="350.00" width="1" height="18.10" fill="#F23645"/>
<rect x="574.90" y="355.00" width="3.80" height="4.00" fill="#F23645"/>
<rect x="581.91" y="341.00" width="1" height="22.75" fill="#089981"/>
<rect x="580.51" y="344.40" width="3.80" height="14.60" fill="#089981"/>
<rect x="587.51" y="322.40" width="1" height="25.20" fill="#089981"/>
<rect x="586.11" y="327.25" width="3.80" height="17.65" fill="#089981"/>
<rect x="593.11" y="320.00" width="1" height="15.60" fill="#089981"/>
<rect x="591.71" y="320.60" width="3.80" height="6.30" fill="#089981"/>
<rect x="598.71" y="317.50" width="1" height="11.90" fill="#F23645"/>
<rect x="597.31" y="323.75" width="3.80" height="4.75" fill="#F23645"/>
<rect x="604.32" y="316.90" width="1" height="13.10" fill="#089981"/>
<rect x="602.92" y="320.00" width="3.80" height="8.50" fill="#089981"/>
<rect x="609.92" y="269.00" width="1" height="53.50" fill="#089981"/>
<rect x="608.52" y="269.75" width="3.80" height="50.25" fill="#089981"/>
<rect x="615.52" y="218.10" width="1" height="55.65" fill="#089981"/>
<rect x="614.12" y="222.50" width="3.80" height="47.50" fill="#089981"/>
<rect x="621.12" y="188.75" width="1" height="89.75" fill="#F23645"/>
<rect x="619.72" y="223.10" width="3.80" height="21.65" fill="#F23645"/>
<rect x="626.73" y="228.75" width="1" height="24.35" fill="#089981"/>
<rect x="625.33" y="236.00" width="3.80" height="9.60" fill="#089981"/>
<rect x="632.33" y="169.00" width="1" height="44.50" fill="#089981"/>
<rect x="630.93" y="181.00" width="3.80" height="26.50" fill="#089981"/>
<rect x="637.93" y="175.60" width="1" height="15.90" fill="#089981"/>
<rect x="636.53" y="177.75" width="3.80" height="2.85" fill="#089981"/>
<rect x="643.53" y="162.25" width="1" height="40.50" fill="#F23645"/>
<rect x="642.13" y="177.25" width="3.80" height="25.50" fill="#F23645"/>
<rect x="649.14" y="169.00" width="1" height="36.10" fill="#089981"/>
<rect x="647.74" y="186.90" width="3.80" height="15.85" fill="#089981"/>
<rect x="654.74" y="140.60" width="1" height="65.90" fill="#089981"/>
<rect x="653.34" y="144.40" width="3.80" height="43.35" fill="#089981"/>
<rect x="660.34" y="136.00" width="1" height="25.00" fill="#F23645"/>
<rect x="658.94" y="143.50" width="3.80" height="12.10" fill="#F23645"/>
<rect x="665.94" y="151.00" width="1" height="10.50" fill="#F23645"/>
<rect x="664.54" y="153.10" width="3.80" height="5.00" fill="#F23645"/>
<rect x="671.55" y="156.25" width="1" height="13.75" fill="#F23645"/>
<rect x="670.15" y="158.10" width="3.80" height="8.80" fill="#F23645"/>
<rect x="677.15" y="143.10" width="1" height="35.00" fill="#089981"/>
<rect x="675.75" y="145.25" width="3.80" height="21.65" fill="#089981"/>
<rect x="682.75" y="145.00" width="1" height="36.90" fill="#F23645"/>
<rect x="681.35" y="145.00" width="3.80" height="26.50" fill="#F23645"/>
<rect x="688.35" y="168.10" width="1" height="36.30" fill="#F23645"/>
<rect x="686.95" y="170.25" width="3.80" height="22.25" fill="#F23645"/>
<rect x="693.96" y="176.25" width="1" height="27.25" fill="#089981"/>
<rect x="692.56" y="180.00" width="3.80" height="12.50" fill="#089981"/>
<rect x="699.56" y="184.00" width="1" height="13.75" fill="#F23645"/>
<rect x="698.16" y="185.25" width="3.80" height="12.50" fill="#F23645"/>
<rect x="705.16" y="185.50" width="1" height="20.10" fill="#089981"/>
<rect x="703.76" y="186.00" width="3.80" height="11.75" fill="#089981"/>
<rect x="710.76" y="170.25" width="1" height="41.00" fill="#F23645"/>
<rect x="709.36" y="186.00" width="3.80" height="9.60" fill="#F23645"/>
<rect x="716.37" y="171.90" width="1" height="28.70" fill="#089981"/>
<rect x="714.97" y="174.00" width="3.80" height="21.25" fill="#089981"/>
<rect x="721.97" y="116.50" width="1" height="62.25" fill="#089981"/>
<rect x="720.57" y="119.00" width="3.80" height="55.40" fill="#089981"/>
<rect x="727.57" y="81.25" width="1" height="48.50" fill="#089981"/>
<rect x="726.17" y="92.25" width="3.80" height="27.15" fill="#089981"/>
<rect x="733.17" y="87.25" width="1" height="16.50" fill="#F23645"/>
<rect x="731.77" y="98.10" width="3.80" height="5.65" fill="#F23645"/>
<rect x="738.78" y="89.75" width="1" height="17.50" fill="#F23645"/>
<rect x="737.38" y="103.10" width="3.80" height="3.80" fill="#F23645"/>
<rect x="744.38" y="93.10" width="1" height="20.90" fill="#F23645"/>
<rect x="742.98" y="106.00" width="3.80" height="1.00" fill="#F23645"/>
<rect x="749.98" y="162.25" width="1" height="8.35" fill="#089981"/>
<rect x="748.58" y="162.25" width="3.80" height="7.15" fill="#089981"/>
<rect x="755.58" y="159.00" width="1" height="63.25" fill="#F23645"/>
<rect x="754.18" y="161.50" width="3.80" height="22.50" fill="#F23645"/>
<rect x="761.19" y="181.00" width="1" height="25.50" fill="#F23645"/>
<rect x="759.79" y="183.75" width="3.80" height="4.00" fill="#F23645"/>
<rect x="766.79" y="175.00" width="1" height="14.50" fill="#089981"/>
<rect x="765.39" y="176.90" width="3.80" height="12.10" fill="#089981"/>
<rect x="772.39" y="163.50" width="1" height="15.00" fill="#089981"/>
<rect x="770.99" y="171.25" width="3.80" height="5.65" fill="#089981"/>
<rect x="777.99" y="162.90" width="1" height="25.85" fill="#F23645"/>
<rect x="776.59" y="171.90" width="3.80" height="5.60" fill="#F23645"/>
<rect x="783.60" y="166.50" width="1" height="45.40" fill="#F23645"/>
<rect x="782.20" y="176.90" width="3.80" height="25.85" fill="#F23645"/>
<rect x="789.20" y="187.50" width="1" height="27.25" fill="#F23645"/>
<rect x="787.80" y="202.25" width="3.80" height="1.00" fill="#F23645"/>
<rect x="794.80" y="192.75" width="1" height="18.75" fill="#F23645"/>
<rect x="793.40" y="203.10" width="3.80" height="4.40" fill="#F23645"/>
<rect x="800.40" y="189.00" width="1" height="20.75" fill="#089981"/>
<rect x="799.00" y="202.50" width="3.80" height="7.25" fill="#089981"/>
<rect x="806.00" y="200.25" width="1" height="11.00" fill="#F23645"/>
<rect x="804.61" y="202.50" width="3.80" height="7.50" fill="#F23645"/>
<rect x="811.61" y="205.60" width="1" height="21.90" fill="#F23645"/>
<rect x="810.21" y="209.00" width="3.80" height="14.75" fill="#F23645"/>
<rect x="817.21" y="198.10" width="1" height="63.40" fill="#F23645"/>
<rect x="815.81" y="222.75" width="3.80" height="37.25" fill="#F23645"/>
<rect x="822.81" y="231.50" width="1" height="32.25" fill="#089981"/>
<rect x="821.41" y="238.50" width="3.80" height="20.25" fill="#089981"/>
<rect x="828.42" y="236.50" width="1" height="10.00" fill="#F23645"/>
<rect x="827.02" y="237.50" width="3.80" height="6.50" fill="#F23645"/>
<rect x="834.02" y="220.25" width="1" height="33.75" fill="#089981"/>
<rect x="832.62" y="231.00" width="3.80" height="16.75" fill="#089981"/>
<rect x="839.62" y="213.75" width="1" height="20.65" fill="#089981"/>
<rect x="838.22" y="228.75" width="3.80" height="3.50" fill="#089981"/>
<rect x="845.22" y="227.50" width="1" height="33.10" fill="#F23645"/>
<rect x="843.82" y="228.50" width="3.80" height="32.10" fill="#F23645"/>
<rect x="850.83" y="258.10" width="1" height="32.90" fill="#F23645"/>
<rect x="849.43" y="260.00" width="3.80" height="31.00" fill="#F23645"/>
<rect x="856.43" y="246.00" width="1" height="45.00" fill="#089981"/>
<rect x="855.03" y="266.90" width="3.80" height="24.10" fill="#089981"/>
<rect x="862.03" y="254.00" width="1" height="22.90" fill="#089981"/>
<rect x="860.63" y="261.50" width="3.80" height="5.75" fill="#089981"/>
<rect x="867.63" y="260.50" width="1" height="8.90" fill="#F23645"/>
<rect x="866.23" y="261.25" width="3.80" height="5.25" fill="#F23645"/>
<rect x="873.24" y="262.50" width="1" height="8.50" fill="#F23645"/>
<rect x="871.84" y="266.00" width="3.80" height="3.75" fill="#F23645"/>
<rect x="878.84" y="246.50" width="1" height="37.25" fill="#089981"/>
<rect x="877.44" y="249.40" width="3.80" height="20.00" fill="#089981"/>
<rect x="884.44" y="240.60" width="1" height="34.15" fill="#F23645"/>
<rect x="883.04" y="249.00" width="3.80" height="9.10" fill="#F23645"/>
<rect x="890.04" y="251.00" width="1" height="31.25" fill="#F23645"/>
<rect x="888.64" y="257.75" width="3.80" height="5.00" fill="#F23645"/>
<rect x="895.65" y="261.50" width="1" height="20.00" fill="#F23645"/>
<rect x="894.25" y="261.50" width="3.80" height="18.50" fill="#F23645"/>
<rect x="901.25" y="280.50" width="1" height="6.00" fill="#F23645"/>
<rect x="899.85" y="281.00" width="3.80" height="5.50" fill="#F23645"/>
<rect x="906.85" y="284.00" width="1" height="4.00" fill="#F23645"/>
<rect x="905.45" y="285.60" width="3.80" height="1.00" fill="#F23645"/>
</g>
<line x1="10" y1="287.2" x2="966" y2="287.2" stroke="#F23645" stroke-width="1" stroke-dasharray="1 1.25" stroke-opacity="0.72"/>
<g font-size="11.6" fill="#2a2e39" stroke="#2a2e39" stroke-width="0.3">
<text x="973.6" y="556.35" textLength="28" lengthAdjust="spacingAndGlyphs">68.00</text>
<text x="973.6" y="519.30" textLength="28" lengthAdjust="spacingAndGlyphs">69.00</text>
<text x="973.6" y="482.00" textLength="28" lengthAdjust="spacingAndGlyphs">70.00</text>
<text x="973.6" y="445.85" textLength="28" lengthAdjust="spacingAndGlyphs">71.00</text>
<text x="973.6" y="409.00" textLength="28" lengthAdjust="spacingAndGlyphs">72.00</text>
<text x="973.6" y="372.00" textLength="28" lengthAdjust="spacingAndGlyphs">73.00</text>
<text x="973.6" y="335.10" textLength="28" lengthAdjust="spacingAndGlyphs">74.00</text>
<text x="973.6" y="260.85" textLength="28" lengthAdjust="spacingAndGlyphs">76.00</text>
<text x="973.6" y="223.80" textLength="28" lengthAdjust="spacingAndGlyphs">77.00</text>
<text x="973.6" y="186.70" textLength="28" lengthAdjust="spacingAndGlyphs">78.00</text>
<text x="973.6" y="149.60" textLength="28" lengthAdjust="spacingAndGlyphs">79.00</text>
<text x="973.6" y="112.90" textLength="28" lengthAdjust="spacingAndGlyphs">80.00</text>
<text x="973.6" y="75.85" textLength="28" lengthAdjust="spacingAndGlyphs">81.00</text>
<text x="973.6" y="38.85" textLength="28" lengthAdjust="spacingAndGlyphs">82.00</text>
</g>
<rect x="966.2" y="279.2" width="40.6" height="29.4" rx="1.5" fill="#F23645"/>
<text x="974.9" y="291.2" font-size="11.6" fill="#fff" stroke="#fff" stroke-width="0.25" textLength="27.2" lengthAdjust="spacingAndGlyphs">75.17</text>
<text x="975.2" y="304.8" font-size="11.6" fill="#fff" fill-opacity="0.85" textLength="26.6" lengthAdjust="spacingAndGlyphs">10:02</text>
<rect x="966.2" y="566.1" width="43.5" height="15.7" rx="1.5" fill="#EF5350"/>
<text x="975.3" y="578.1" font-size="11.6" fill="#fff" stroke="#fff" stroke-width="0.3" textLength="29.6" lengthAdjust="spacingAndGlyphs">1.66 K</text>
<g font-size="11.6" fill="#2a2e39" stroke="#2a2e39" stroke-width="0.2">
<text x="27.41" y="599.2" textLength="11.6" lengthAdjust="spacingAndGlyphs">16</text>
<text x="103.95" y="599.2" textLength="26.6" lengthAdjust="spacingAndGlyphs">14:00</text>
<text x="195.48" y="599.2" textLength="11.6" lengthAdjust="spacingAndGlyphs">23</text>
<text x="296.33" y="599.2" textLength="11.6" lengthAdjust="spacingAndGlyphs">27</text>
<text x="384.67" y="599.2" textLength="25.4" lengthAdjust="spacingAndGlyphs" font-weight="bold">2025</text>
<text x="501.02" y="599.2" textLength="5.6" lengthAdjust="spacingAndGlyphs">7</text>
<text x="632.48" y="599.2" textLength="11.6" lengthAdjust="spacingAndGlyphs">13</text>
<text x="709.02" y="599.2" textLength="26.6" lengthAdjust="spacingAndGlyphs">14:00</text>
<text x="800.56" y="599.2" textLength="11.6" lengthAdjust="spacingAndGlyphs">20</text>
<text x="901.40" y="599.2" textLength="11.6" lengthAdjust="spacingAndGlyphs">23</text>
</g>
<g transform="translate(907.1 569.5)"><circle r="9.3" fill="#fff" stroke="#9C27B0" stroke-width="1.3"/><path d="M2.4 -4.3 L-3.8 0.7 L0.5 0.7 L-2.7 4.8 L3.6 -0.4 L-0.5 -0.4 Z" fill="#9C27B0" stroke="#9C27B0" stroke-width="0.9" stroke-linejoin="round"/></g>
<g font-size="11.8" fill="#2f323c" stroke="#2f323c" stroke-width="0.2">
<text x="9.45" y="18.80" textLength="68.65" lengthAdjust="spacingAndGlyphs">angiepanoyan</text>
<text x="82.20" y="18.80" textLength="47.50" lengthAdjust="spacingAndGlyphs">published</text>
<text x="133.20" y="18.80" textLength="12.40" lengthAdjust="spacingAndGlyphs">on</text>
<text x="148.80" y="18.80" textLength="86.20" lengthAdjust="spacingAndGlyphs">TradingView.com,</text>
<text x="240.50" y="18.80" textLength="17.60" lengthAdjust="spacingAndGlyphs">Jan</text>
<text x="263.20" y="18.80" textLength="13.00" lengthAdjust="spacingAndGlyphs">23,</text>
<text x="280.60" y="18.80" textLength="22.80" lengthAdjust="spacingAndGlyphs">2025</text>
<text x="307.80" y="18.80" textLength="27.30" lengthAdjust="spacingAndGlyphs">05:49</text>
<text x="339.10" y="18.80" textLength="19.80" lengthAdjust="spacingAndGlyphs">UTC</text>
</g>
<g font-size="11.6" fill="#2a2e39" stroke="#2a2e39" stroke-width="0.25">
<text x="17.20" y="44.00" textLength="23.85" lengthAdjust="spacingAndGlyphs">CFDs</text>
<text x="44.40" y="44.00" textLength="12.00" lengthAdjust="spacingAndGlyphs">on</text>
<text x="60.30" y="44.00" textLength="18.90" lengthAdjust="spacingAndGlyphs">WTI</text>
<text x="82.45" y="44.00" textLength="29.10" lengthAdjust="spacingAndGlyphs">Crude</text>
<text x="115.30" y="44.00" textLength="17.50" lengthAdjust="spacingAndGlyphs">Oil,</text>
<text x="136.60" y="44.00" textLength="15.95" lengthAdjust="spacingAndGlyphs">4h,</text>
<text x="156.60" y="44.00" textLength="19.95" lengthAdjust="spacingAndGlyphs">TVC</text>
<text x="182.80" y="44.00" textLength="7.90" lengthAdjust="spacingAndGlyphs">O</text>
<text x="225.20" y="44.00" textLength="7.10" lengthAdjust="spacingAndGlyphs">H</text>
<text x="267.30" y="44.00" textLength="5.00" lengthAdjust="spacingAndGlyphs">L</text>
<text x="306.70" y="44.00" textLength="6.60" lengthAdjust="spacingAndGlyphs">C</text>
</g>
<g font-size="11.6" fill="#F23645" stroke="#F23645" stroke-width="0.2">
<text x="190.60" y="44.00" textLength="27.70" lengthAdjust="spacingAndGlyphs">75.18</text>
<text x="232.30" y="44.00" textLength="27.50" lengthAdjust="spacingAndGlyphs">75.25</text>
<text x="272.30" y="44.00" textLength="27.50" lengthAdjust="spacingAndGlyphs">75.13</text>
<text x="313.50" y="44.00" textLength="28.00" lengthAdjust="spacingAndGlyphs">75.17</text>
<text x="347.70" y="44.00" textLength="28.10" lengthAdjust="spacingAndGlyphs">−0.02</text>
<text x="379.70" y="44.00" textLength="41.35" lengthAdjust="spacingAndGlyphs">(−0.02%)</text>
</g>
<g font-size="11.6" fill="#2a2e39" stroke="#2a2e39" stroke-width="0.25">
<text x="17.20" y="59.60" textLength="16.10" lengthAdjust="spacingAndGlyphs">Vol</text>
</g>
<g font-size="11.6" fill="#EF5350" stroke="#EF5350" stroke-width="0.2">
<text x="39.50" y="59.60" textLength="20.00" lengthAdjust="spacingAndGlyphs">1.66</text>
<text x="61.90" y="59.60" textLength="7.40" lengthAdjust="spacingAndGlyphs">K</text>
</g>
<g fill="#1e222d"><path d="M10 620 H17.5 V628.8 H13.2 V623.8 H10 Z"/><circle cx="20" cy="621.6" r="1.6"/><path d="M23.2 620 H27.8 L24.6 628.8 H20 Z"/></g>
<text x="31.8" y="628.8" font-size="11.5" fill="#1e222d" stroke="#1e222d" stroke-width="0.25" textLength="65.2" lengthAdjust="spacingAndGlyphs">TradingView</text>
</svg></body></html>
